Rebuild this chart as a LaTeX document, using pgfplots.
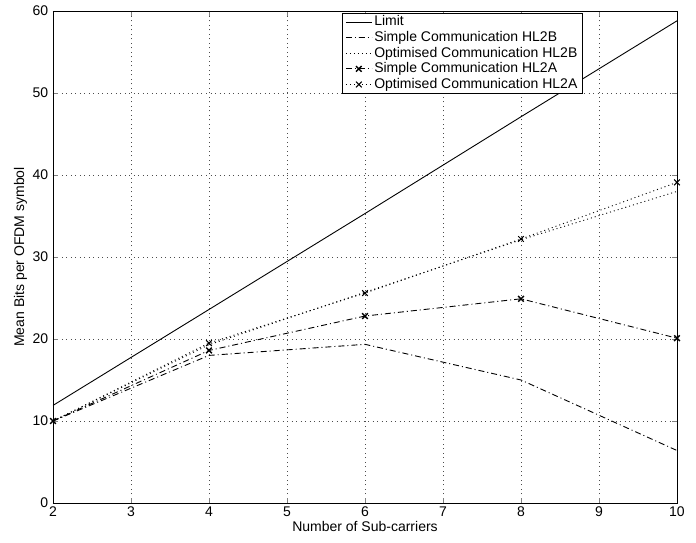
\documentclass[border=0pt]{standalone}
\usepackage{fontspec}
\setmainfont{Liberation Sans}
\usepackage{pgfplots}
\pgfplotsset{compat=1.18}
\begin{document}
\fontsize{14bp}{16bp}\selectfont
\begin{tikzpicture}
\begin{axis}[
  scale only axis,
  width=624bp, height=492bp,
  xmin=2, xmax=10, ymin=0, ymax=60,
  xtick={2,3,...,10}, ytick={0,10,...,60},
  /pgf/number format/assume math mode=true,
  tick align=inside,
  major tick length=5bp,
  axis line style={line width=0.8bp},
  grid=major,
  major grid style={black!70, line width=0.5bp, dash pattern=on 1bp off 3.5bp},
  xlabel={Number of Sub-carriers},
  ylabel={Mean Bits per OFDM symbol},
  xlabel style={yshift=5bp},
  ylabel style={yshift=-4bp},
  tick label style={font=\fontsize{14bp}{16bp}\selectfont},
  xticklabel style={yshift=1bp},
  legend style={at={(0.849,0.996)}, anchor=north east, draw=black, line width=0.8bp,
    font=\fontsize{14bp}{16bp}\selectfont, inner xsep=3bp, inner ysep=0.5bp, row sep=-0.6bp, cells={anchor=west}},
  legend cell align=left,
  legend image code/.code={\draw[mark repeat=2,mark phase=2] plot coordinates {(0bp,0bp) (13bp,0bp) (26bp,0bp)};},
  every axis plot/.append style={line width=0.9bp, black},
]
\addplot[solid] coordinates {(2,11.9) (4,23.6) (6,35.3) (8,47.1) (10,58.8)};
\addlegendentry{Limit}
\addplot[dash pattern=on 6bp off 3bp on 1bp off 3bp] coordinates {(2,10) (4,18.0) (6,19.35) (8,15.0) (10,6.4)};
\addlegendentry{Simple Communication HL2B}
\addplot[dash pattern=on 1bp off 3bp] coordinates {(2,10) (4,19.3) (6,25.7) (8,32.1) (10,38.0)};
\addlegendentry{Optimised Communication HL2B}
\addplot[dash pattern=on 6bp off 3bp on 1bp off 3bp, mark=x, mark size=4bp, mark options={solid, line width=1.4bp}] coordinates {(2,10) (4,18.6) (6,22.8) (8,24.9) (10,20.1)};
\addlegendentry{Simple Communication HL2A}
\addplot[dash pattern=on 1bp off 3bp, mark=x, mark size=4bp, mark options={solid, line width=1bp}] coordinates {(2,10) (4,19.5) (6,25.6) (8,32.2) (10,39.1)};
\addlegendentry{Optimised Communication HL2A}
\end{axis}
\pgfresetboundingbox
\path[use as bounding box] (-53bp,-40bp) rectangle (643bp,503bp);
\end{tikzpicture}
\end{document}
